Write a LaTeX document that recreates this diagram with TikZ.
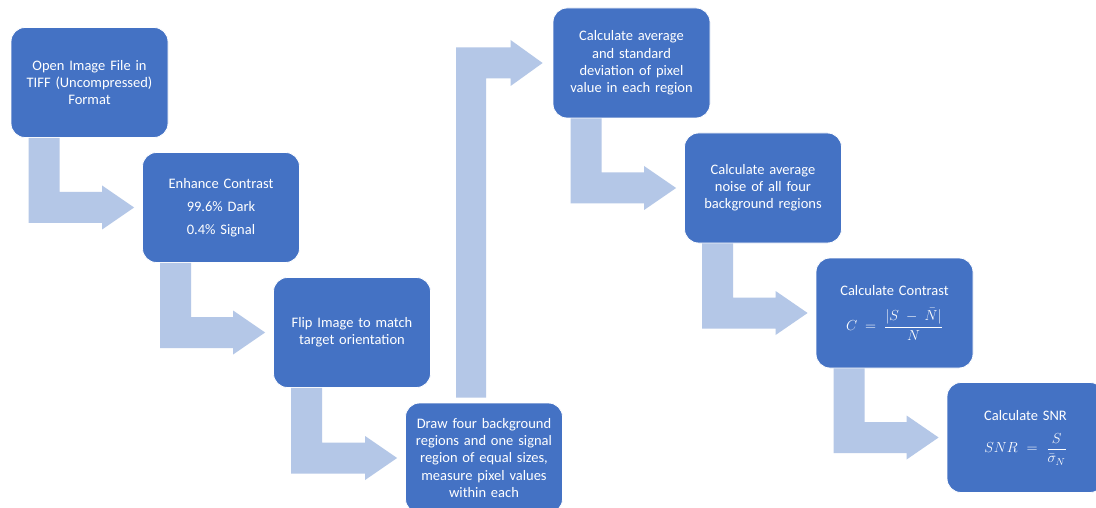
\RequirePackage{fix-cm}
\documentclass[tikz,border=0pt]{standalone}
\usepackage{fontspec}
\setmainfont{Carlito}
\usetikzlibrary{calc}
\definecolor{boxblue}{HTML}{4472C4}
\definecolor{arrblue}{HTML}{B4C7E7}
\tikzset{
  stepbox/.style={fill=boxblue, draw=white, line width=0.8pt, rounded corners=14pt,
    minimum width=157pt, minimum height=110pt, text width=152pt, align=center,
    text=white, inner sep=2pt, font=\fontsize{14.5}{17.2}\selectfont},
  arr/.style={fill=arrblue}
}
\newcommand\bentarr[2]{%
  \fill[arr] let \p1=(#1.south west), \p2=(#2.west) in
    (\x1+18pt,\y1) -- (\x1+49pt,\y1) -- (\x1+49pt,\y2+15.5pt) -- (\x2-40pt,\y2+15.5pt)
    -- (\x2-40pt,\y2+22pt) -- (\x2-8pt,\y2) -- (\x2-40pt,\y2-22pt) -- (\x2-40pt,\y2-15.5pt)
    -- (\x1+18pt,\y2-15.5pt) -- cycle;}
\begin{document}
\begin{tikzpicture}[x=1pt,y=-1pt]
\useasboundingbox (0,0) rectangle (1096,508);
\clip (0,0) rectangle (1096,508);
\fill[white] (0,0) rectangle (1096,508);
\node[stepbox] (b1) at (89.5,82.5) {Open Image File in\\TIFF (Uncompressed)\\Format};
\node[stepbox] (b2) at (221,207.5) {Enhance Contrast\\[6pt]99.6\% Dark\\[6pt]0.4\% Signal};
\node[stepbox] (b3) at (352,332.5) {Flip Image to match\\target orientation};
\node[stepbox] (b4) at (484,458) {Draw four background\\regions and one signal\\region of equal sizes,\\measure pixel values\\within each};
\node[stepbox] (b5) at (631.5,63) {Calculate average\\and standard\\deviation of pixel\\value in each region};
\node[stepbox] (b6) at (763,188) {Calculate average\\noise of all four\\background regions};
\node[stepbox] (b7) at (894.5,313) {Calculate Contrast\\[12pt]$\displaystyle C=\frac{|S\;-\;\bar N|}{\bar N}$};
\node[stepbox] (b8) at (1025.5,437.5) {Calculate SNR\\[12pt]$\displaystyle SNR=\frac{S}{\bar\sigma_N}$};
\bentarr{b1}{b2}
\bentarr{b2}{b3}
\bentarr{b3}{b4}
\bentarr{b5}{b6}
\bentarr{b6}{b7}
\bentarr{b7}{b8}
\fill[arr] let \p1=(b4.north west), \p2=(b5.west) in
    (\x1+51pt,\y1+5pt) -- (\x1+81pt,\y1+5pt) -- (\x1+81pt,\y2-15.5pt) -- (\x2-42pt,\y2-15.5pt)
    -- (\x2-42pt,\y2-23pt) -- (\x2-10pt,\y2) -- (\x2-42pt,\y2+23pt) -- (\x2-42pt,\y2+15.5pt)
    -- (\x1+51pt,\y2+15.5pt) -- cycle;
\end{tikzpicture}
\end{document}
